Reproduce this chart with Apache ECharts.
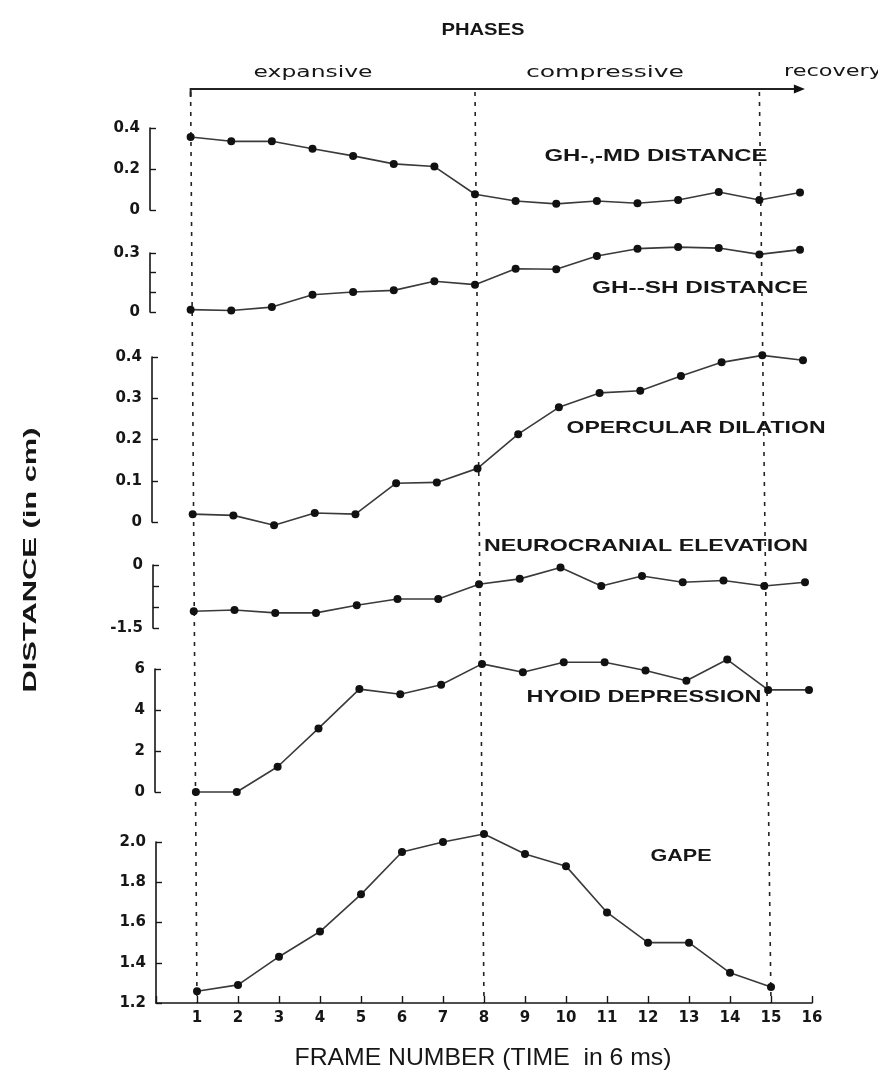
<!DOCTYPE html>
<html>
<head>
<meta charset="utf-8">
<script src="https://cdn.jsdelivr.net/npm/echarts@6/dist/echarts.min.js"></script>
<style>
html,body{margin:0;padding:0;background:#fff;}
#chart{width:878px;height:1092px;}
</style>
</head>
<body>
<div id="chart"></div>
<script>
// ---------- data ----------
const frames = [1,2,3,4,5,6,7,8,9,10,11,12,13,14,15,16];
const ghMd = [0.356,0.335,0.335,0.299,0.264,0.225,0.212,0.077,0.044,0.030,0.044,0.033,0.049,0.088,0.049,0.085];
const ghSh = [0.012,0.008,0.025,0.088,0.102,0.110,0.156,0.139,0.220,0.217,0.285,0.322,0.330,0.325,0.293,0.317];
const opercular = [0.019,0.016,-0.008,0.022,0.019,0.094,0.096,0.130,0.213,0.278,0.313,0.318,0.354,0.387,0.404,0.392];
const neurocranial = [-1.10,-1.07,-1.14,-1.14,-0.96,-0.81,-0.81,-0.46,-0.33,-0.06,-0.50,-0.26,-0.41,-0.37,-0.50,-0.41];
const hyoid = [0,0,1.23,3.1,5.02,4.77,5.23,6.25,5.84,6.33,6.33,5.93,5.43,6.46,4.98,4.98];
const gape = [1.258,1.29,1.43,1.555,1.74,1.95,2.0,2.04,1.94,1.88,1.65,1.50,1.50,1.35,1.28];
const seriesNames = ['GH-,-MD DISTANCE','GH--SH DISTANCE','OPERCULAR DILATION','NEUROCRANIAL ELEVATION','HYOID DEPRESSION','GAPE'];
const phaseNames = ['expansive','compressive','recovery'];
const phaseBoundaries = [1, 8, 15];
const yRanges = [[0,0.4,0.2],[0,0.3,0.1],[0,0.4,0.1],[-1.5,0,0.5],[0,6,2],[1.2,2.0,0.2]];
const yShownLabels = [null,[0,0.3],null,[0,-1.5],null,null];

// ---------- layout ----------
const gridTops =   [128, 253, 357, 565, 669, 842];
const gridHeights = [82,  59, 165,  63, 123, 161];
const gridLefts =  [150, 150, 152, 153, 155, 156];
const gridWidths = [650, 650, 651, 652, 654, 656];
const ink = '#161616';
const tickFont = '"DejaVu Sans", sans-serif';

const chart = echarts.init(document.getElementById('chart'), null, {renderer:'canvas'});
const allSeries = [ghMd, ghSh, opercular, neurocranial, hyoid, gape];

function fmtY(idx){
  return function(v){
    const shown = yShownLabels[idx];
    if (shown && !shown.some(s => Math.abs(s - v) < 1e-6)) return '';
    if (Math.abs(v) < 1e-9) return '0';
    if (idx === 4) return String(Math.round(v));
    return v.toFixed(1);
  };
}

const grid = [], xAxis = [], yAxis = [], series = [];
for (let i = 0; i < 6; i++) {
  grid.push({left: gridLefts[i], top: gridTops[i], width: gridWidths[i], height: gridHeights[i]});
  const last = i === 5;
  xAxis.push({
    type:'value', gridIndex:i, min:0, max:16, interval:1, show: last,
    axisLine:{show:true, onZero:false, lineStyle:{color:ink, width:1.6}},
    axisTick:{show:true, inside:true, length:7, lineStyle:{color:ink, width:1.4}},
    axisLabel:{show:true, color:ink, fontFamily:tickFont, fontWeight:'bold', fontSize:15, margin:8,
      formatter: v => v === 0 ? '' : String(v)},
    splitLine:{show:false}
  });
  const r = yRanges[i];
  yAxis.push({
    type:'value', gridIndex:i, min:r[0], max:r[1], interval:r[2],
    axisLine:{show:true, lineStyle:{color:ink, width:1.6}},
    axisTick:{show:true, inside:true, length:6, lineStyle:{color:ink, width:1.4}},
    axisLabel:{color:ink, fontFamily:tickFont, fontWeight:'bold', fontSize:15, margin:10, formatter: fmtY(i)},
    splitLine:{show:false}
  });
  const vals = allSeries[i];
  series.push({
    type:'line', name: seriesNames[i], xAxisIndex:i, yAxisIndex:i, clip:false,
    data: vals.map((v,k) => [frames[k], v]),
    symbol:'circle', symbolSize:8,
    itemStyle:{color:'#111'},
    lineStyle:{color:'#3a3a3a', width:1.6},
    animation:false
  });
}

chart.setOption({backgroundColor:'#fff', animation:false, grid, xAxis, yAxis, series});

// ---------- annotations via the axes ----------
const mctx = document.createElement('canvas').getContext('2d');
function fitText(text, font, targetWidth, cx, cy, extra){
  mctx.font = font;
  const w = mctx.measureText(text).width;
  return Object.assign({
    type:'text', x:cx, y:cy, scaleX: targetWidth / w, silent:true,
    style:{text:text, font:font, fill:ink, textAlign:'center', textVerticalAlign:'middle'}
  }, extra || {});
}

const graphics = [];
const arrowY = 89;
const baseY = chart.convertToPixel({yAxisIndex:5}, 1.2);
phaseBoundaries.forEach(f => {
  const xt = chart.convertToPixel({xAxisIndex:0}, f);
  const xb = chart.convertToPixel({xAxisIndex:5}, f);
  graphics.push({type:'line', silent:true, shape:{x1:xt, y1:arrowY+3, x2:xb, y2:baseY},
    style:{stroke:'#222', lineWidth:1.6, lineDash:[4,6]}});
});
const ax1 = chart.convertToPixel({xAxisIndex:0}, 1);
const tip = chart.convertToPixel({xAxisIndex:0}, 16.12);
graphics.push({type:'line', silent:true, shape:{x1:ax1, y1:arrowY, x2:tip-8, y2:arrowY}, style:{stroke:'#222', lineWidth:2}});
graphics.push({type:'line', silent:true, shape:{x1:ax1, y1:arrowY-1, x2:ax1, y2:arrowY+8}, style:{stroke:'#222', lineWidth:2}});
graphics.push({type:'polygon', silent:true, shape:{points:[[tip-11,arrowY-4.5],[tip,arrowY],[tip-11,arrowY+4.5]]}, style:{fill:'#111'}});

// titles & phase labels
graphics.push(fitText('PHASES', 'bold 17px "Liberation Sans", Arial, sans-serif', 83, 483, 30));
const phaseFont = '16px "DejaVu Sans", sans-serif';
graphics.push(fitText(phaseNames[0], phaseFont, 119, 313, 73));
graphics.push(fitText(phaseNames[1], phaseFont, 158, 605, 73));
graphics.push(fitText(phaseNames[2], phaseFont, 98, 833, 72));

// series labels
const labelFont = 'bold 17px "Liberation Sans", Arial, sans-serif';
const labelPos = [[656,156,223],[700,288,216],[696,428,259],[646,546,324],[644,697,235],[681,856,61]];
seriesNames.forEach((n,i) => graphics.push(fitText(n, labelFont, labelPos[i][2], labelPos[i][0], labelPos[i][1])));

// axis titles
graphics.push(fitText('FRAME NUMBER (TIME  in 6 ms)', '24px "Liberation Sans", Arial, sans-serif', 377, 483, 1058));
graphics.push(fitText('DISTANCE (in cm)', 'bold 19px "Liberation Sans", Arial, sans-serif', 265, 31, 560, {rotation: Math.PI/2}));

chart.setOption({graphic: graphics});
</script>
</body>
</html>
